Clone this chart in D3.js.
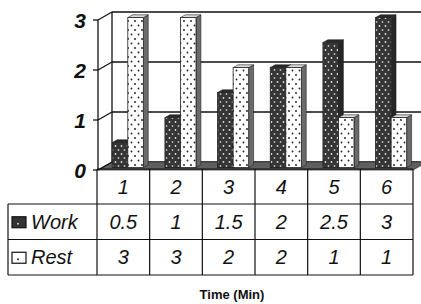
<!DOCTYPE html>
<html><head><meta charset="utf-8">
<script src="https://cdn.jsdelivr.net/npm/d3@7"></script>
<style>body{margin:0;background:#fff}svg{display:block}</style>
</head><body>
<script>
const categories = ["1","2","3","4","5","6"];
const seriesNames = ["Work","Rest"];
const workValues = [0.5,1,1.5,2,2.5,3];
const restValues = [3,3,2,2,1,1];
const yTicks = [0,1,2,3];
const xTitle = "Time (Min)";

const W = 421, H = 304;
const DX = 14, DY = 8;          // depth projection
const Z0 = 0.3, Z1 = 0.65;      // bar depth span
const svg = d3.select("body").append("svg").attr("width", W).attr("height", H);
const FONT = "'Liberation Sans', Arial, sans-serif";

const x = d3.scaleBand().domain(categories).range([97, 413]);
const xs = d3.scaleBand().domain(seriesNames).range([x.bandwidth()*0.21, x.bandwidth()*0.8]);
const y = d3.scaleLinear().domain([0,3]).range([170, 20]);

const defs = svg.append("defs");
const pw = defs.append("pattern").attr("id","workDots").attr("patternUnits","userSpaceOnUse").attr("width",6).attr("height",8);
pw.append("rect").attr("width",6).attr("height",8).attr("fill","#353535");
pw.append("circle").attr("cx",1.5).attr("cy",2).attr("r",0.9).attr("fill","#ddd");
pw.append("circle").attr("cx",4.5).attr("cy",6).attr("r",0.9).attr("fill","#bbb");
const pr = defs.append("pattern").attr("id","restDots").attr("patternUnits","userSpaceOnUse").attr("width",7).attr("height",9);
pr.append("rect").attr("width",7).attr("height",9).attr("fill","#fff");
pr.append("circle").attr("cx",2).attr("cy",3).attr("r",0.9).attr("fill","#111");
pr.append("circle").attr("cx",5.5).attr("cy",7.5).attr("r",0.9).attr("fill","#222");

// back wall gridlines
const back = svg.append("g");
yTicks.forEach(t => {
  back.append("line").attr("x1",98+DX).attr("x2",W+10).attr("y1",y(t)-DY).attr("y2",y(t)-DY)
    .attr("stroke","#111").attr("stroke-width",1.4);
});
back.append("line").attr("x1",98+DX).attr("x2",98+DX).attr("y1",y(3)-DY).attr("y2",y(0)-DY).attr("stroke","#111").attr("stroke-width",1.3);

// floor
const fx0 = 98, fx1 = 413, fy = y(0);
svg.append("polygon").attr("points",[[fx0,fy],[fx1,fy],[fx1+DX,fy-DY],[fx0+DX,fy-DY]].map(p=>p.join(",")).join(" "))
  .attr("fill","#5f5f5f").attr("stroke","#333").attr("stroke-width",0.8);

// axis
const ax = svg.append("g");
ax.append("line").attr("x1",98).attr("x2",98).attr("y1",y(3)).attr("y2",y(0)).attr("stroke","#111").attr("stroke-width",1.3);
yTicks.forEach(t => {
  ax.append("line").attr("x1",93).attr("x2",98).attr("y1",y(t)).attr("y2",y(t)).attr("stroke","#111").attr("stroke-width",1.3);
  ax.append("line").attr("x1",98).attr("x2",98+DX).attr("y1",y(t)).attr("y2",y(t)-DY).attr("stroke","#111").attr("stroke-width",1.3);
  ax.append("text").attr("x",86).attr("y",y(t)).attr("dy","0.36em").attr("text-anchor","end")
    .attr("font-family",FONT).attr("font-size",21).attr("font-weight","bold").attr("font-style","italic")
    .attr("fill","#111").text(t);
});

// bars
const P = (px,py,z)=>[px+z*DX, py-z*DY];
const poly = pts => pts.map(p=>p.join(",")).join(" ");
const bars = svg.append("g");
categories.forEach((c,i) => {
  [["Work",workValues[i]],["Rest",restValues[i]]].forEach(([s,v]) => {
    const x0 = x(c)+xs(s), x1 = x0+xs.bandwidth(), yt = y(v), yb = y(0);
    const isW = s==="Work";
    bars.append("polygon").attr("points",poly([P(x1,yt,Z0),P(x1,yt,Z1),P(x1,yb,Z1),P(x1,yb,Z0)]))
      .attr("fill", isW ? "#262626" : "#6a6a6a").attr("stroke","#222").attr("stroke-width",0.6);
    bars.append("polygon").attr("points",poly([P(x0,yt,Z0),P(x1,yt,Z0),P(x1,yt,Z1),P(x0,yt,Z1)]))
      .attr("fill", isW ? "#2a2a2a" : "#d8d8d8").attr("stroke","#222").attr("stroke-width",0.6);
    const f = P(x0,yt,Z0);
    bars.append("rect").attr("x",f[0]).attr("y",f[1]).attr("width",x1-x0).attr("height",yb-yt)
      .attr("fill", isW ? "url(#workDots)" : "url(#restDots)").attr("stroke","#222").attr("stroke-width",0.8);
  });
});

// data table
const rows = [169, 204, 239.5, 275];
const tbl = svg.append("g").attr("stroke","#111").attr("stroke-width",1.2);
tbl.append("line").attr("x1",97).attr("x2",413).attr("y1",rows[0]).attr("y2",rows[0]);
[1,2,3].forEach(k => tbl.append("line").attr("x1",8).attr("x2",413).attr("y1",rows[k]).attr("y2",rows[k]));
tbl.append("line").attr("x1",8).attr("x2",8).attr("y1",rows[1]).attr("y2",rows[3]);
const colEdges = categories.map(c=>x(c)).concat([413]);
colEdges.forEach(cx => tbl.append("line").attr("x1",cx).attr("x2",cx).attr("y1",rows[0]).attr("y2",rows[3]));

const TS = 20;
const txt = svg.append("g").attr("font-family",FONT).attr("font-style","italic").attr("font-size",TS).attr("fill","#111").attr("text-anchor","middle");
const rowMid = k => (rows[k]+rows[k+1])/2;
categories.forEach((c,i) => {
  const cx = x(c)+x.bandwidth()/2;
  txt.append("text").attr("x",cx).attr("y",rowMid(0)).attr("dy","0.36em").text(c);
  txt.append("text").attr("x",cx).attr("y",rowMid(1)).attr("dy","0.36em").text(String(workValues[i]));
  txt.append("text").attr("x",cx).attr("y",rowMid(2)).attr("dy","0.36em").text(String(restValues[i]));
});
seriesNames.forEach((s,k) => {
  const cy = rowMid(k+1);
  svg.append("rect").attr("x",12).attr("y",cy-5).attr("width",14).attr("height",11)
    .attr("fill", s==="Work" ? "#333" : "#fff").attr("stroke","#111").attr("stroke-width",1.2);
  svg.append("circle").attr("cx",18).attr("cy",cy+2).attr("r",0.9).attr("fill", s==="Work" ? "#ddd" : "#111");
  svg.append("text").attr("x",31).attr("y",cy).attr("dy","0.36em").attr("font-family",FONT).attr("font-style","italic")
    .attr("font-size",TS).attr("fill","#111").text(s);
});

svg.append("text").attr("x",232).attr("y",294).attr("dy","0.36em").attr("text-anchor","middle")
  .attr("font-family",FONT).attr("font-weight","bold").attr("font-size",13).attr("fill","#111").text(xTitle);
</script>
</body></html>
